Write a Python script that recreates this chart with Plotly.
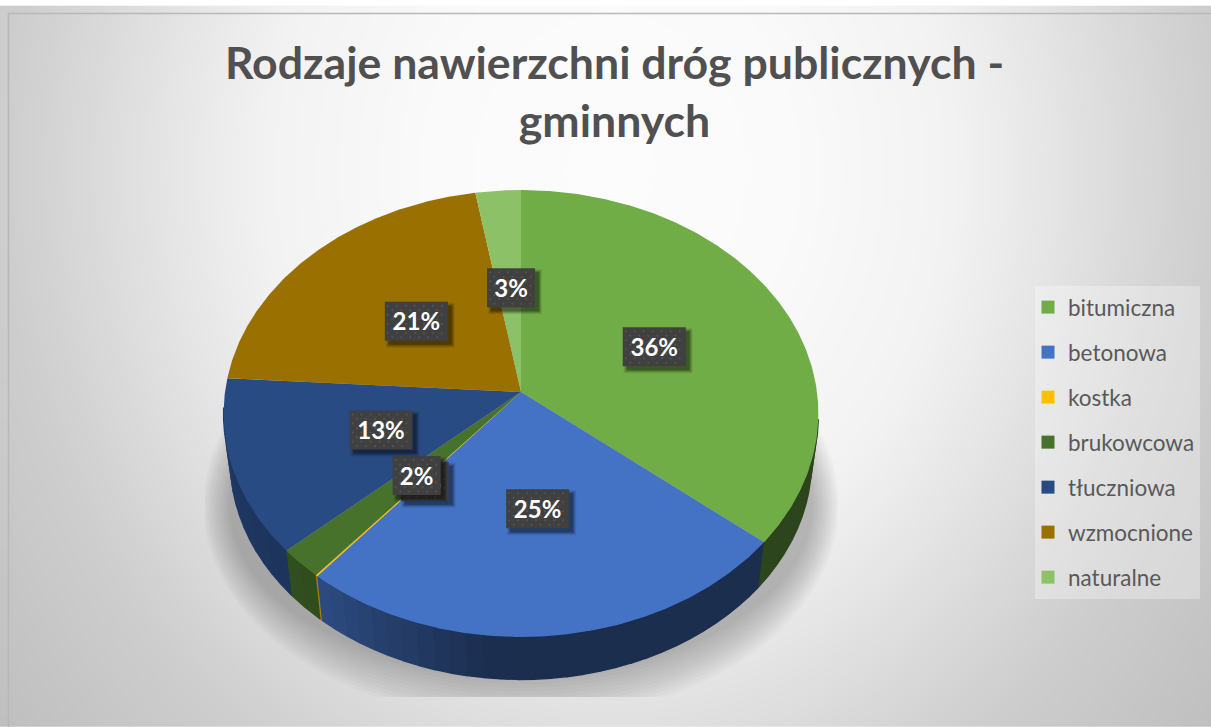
import numpy as np
import plotly.graph_objects as go

TITLE = "Rodzaje nawierzchni dróg publicznych -<br>gminnych"
categories = ["bitumiczna", "betonowa", "kostka", "brukowcowa", "tłuczniowa", "wzmocnione", "naturalne"]
values = [36.0, 25.0, 0.1, 2.2, 12.7, 21.3, 2.7]
colors = ["#70AD47", "#4472C4", "#FFC000", "#47722C", "#294B83", "#9A7000", "#8CC168"]

W, H = 1211, 727
FONT = "Lato"
CX, CY = 521.0, 392.0
BX, AY, K = 296.0, 221.4, 0.0962   # perspective ellipse of the pie's top face
DEPTH, LOWER = 48.0, 0.977


def project(theta, r=1.0, drop=0.0, scale=1.0):
    s, c = np.sin(theta) * r, np.cos(theta) * r
    d = 1 + K * c
    return CX + scale * BX * s / d, CY + drop - scale * AY * c / d


def fill(xs, ys, color, **kw):
    return go.Scatter(x=np.asarray(xs), y=np.asarray(ys), mode="lines", fill="toself", fillcolor=color,
                      line=dict(width=kw.pop("lw", 0), color=color), hoverinfo="skip", showlegend=False, **kw)


def scaled(hex_color, s):
    r, g, b = (int(hex_color[i:i + 2], 16) for i in (1, 3, 5))
    return f"rgb({r * s:.0f},{g * s:.0f},{b * s:.0f})"


fig = go.Figure()

# Page background: soft radial gradient of the chart area
gx = np.linspace(8, W, 70)
gy = np.linspace(13, H, 50)
X, Y = np.meshgrid(gx, gy)
T = np.sqrt(((X - 610) / 600) ** 2 + ((Y - 170) / 700) ** 2)
Z = np.interp(T, [0, 0.3, 0.575, 0.7, 1.0, 1.3], [252, 250, 242, 232, 206, 190])
fig.add_trace(go.Heatmap(x=gx, y=gy, z=Z, zmin=0, zmax=255, zsmooth="best", showscale=False, hoverinfo="skip",
                         colorscale=[[0, "rgb(0,0,0)"], [1, "rgb(255,255,255)"]]))
fig.add_trace(go.Scatter(x=[8.5, 8.5, W], y=[H, 13.5, 13.5], mode="lines", line=dict(color="#b8b8b8", width=1.5),
                         hoverinfo="skip", showlegend=False))

# Soft clipped shadow under the pie
phi = np.linspace(0, 2 * np.pi, 181)
for t in np.linspace(1, 0, 13):
    sx = np.clip(521 + (292 + 26 * t) * np.cos(phi), 205, 838)
    sy = np.minimum(505 + (172 + 44 * t) * np.sin(phi), 697)
    fig.add_trace(fill(sx, sy, "rgba(0,0,0,0.02)"))

# Slice angles
vals = np.array(values, dtype=float)
edges = np.concatenate([[0], np.cumsum(vals) / vals.sum()]) * 2 * np.pi

# Side wall of the pie, darker towards the front
wall_deg = [90, 185, 222, 270]
wall_s = [0.40, 0.40, 0.68, 0.80]
for i, col in enumerate(colors):
    a0, a1 = max(edges[i], np.radians(97)), min(edges[i + 1], np.radians(266))
    if a1 <= a0:
        continue
    n = max(1, int(np.degrees(a1 - a0) / 3))
    cuts = np.linspace(a0, a1, n + 1)
    for u, v in zip(cuts[:-1], cuts[1:]):
        th = np.linspace(u, v, 5)
        ux, uy = project(th)
        lx, ly = project(th[::-1], drop=DEPTH, scale=LOWER)
        shade = float(np.interp(np.degrees((u + v) / 2), wall_deg, wall_s))
        fig.add_trace(fill(np.r_[ux, lx], np.r_[uy, ly], scaled(col, shade), lw=1.6))

# Top face
for i, col in enumerate(colors):
    th = np.linspace(edges[i], edges[i + 1], max(3, int(np.degrees(edges[i + 1] - edges[i]) * 2)))
    ex, ey = project(th)
    fig.add_trace(fill(np.r_[CX, ex], np.r_[CY, ey], col))

# Data labels, stacked in series order so the later boxes cover the earlier ones
for i, v in enumerate(vals):
    mid = (edges[i] + edges[i + 1]) / 2
    lx, ly = project(mid, r=0.5)
    lx, ly = float(lx) + 2, float(ly) + 1
    txt = f"{round(v / vals.sum() * 100)}%"
    hw, hh = (16.5 + 7.5 * (len(txt) - 1)), 19.5
    for grow, alpha in ((3, 0.08), (2, 0.12), (1, 0.16), (0, 0.22)):
        fig.add_trace(fill([lx - hw + 4 - grow, lx + hw + 4 + grow, lx + hw + 4 + grow, lx - hw + 4 - grow],
                           [ly - hh + 4 - grow, ly - hh + 4 - grow, ly + hh + 4 + grow, ly + hh + 4 + grow],
                           f"rgba(0,0,0,{alpha})"))
    fig.add_trace(fill([lx - hw, lx + hw, lx + hw, lx - hw], [ly - hh, ly - hh, ly + hh, ly + hh], "#404040"))
    dx, dy = [], []
    for row, yy in enumerate(np.arange(ly - hh + 4, ly + hh - 2, 4.5)):
        xs = np.arange(lx - hw + 3 + (row % 2) * 4.5, lx + hw - 2, 9)
        dx.extend(xs)
        dy.extend([yy] * len(xs))
    fig.add_trace(go.Scatter(x=dx, y=dy, mode="markers", marker=dict(size=2, color="#555555"),
                             hoverinfo="skip", showlegend=False))
    fig.add_trace(go.Scatter(x=[lx], y=[ly + 3], mode="text", text=[f"<b>{txt}</b>"], textposition="middle center",
                             textfont=dict(family=FONT, size=24, color="#ffffff"),
                             hoverinfo="skip", showlegend=False))

# Legend entries
for name, col in zip(categories, colors):
    fig.add_trace(go.Scatter(x=[None], y=[None], mode="markers", name=name, legendgroup=name,
                             marker=dict(symbol="square", size=13, color=col)))

fig.update_layout(
    width=W, height=H, margin=dict(l=0, r=0, t=0, b=0),
    paper_bgcolor="#ffffff", plot_bgcolor="rgba(0,0,0,0)",
    xaxis=dict(range=[0, W], visible=False, fixedrange=True),
    yaxis=dict(range=[H, 0], visible=False, fixedrange=True),
    title=dict(text=TITLE, x=614.5 / W, xanchor="center", y=1 - 79 / H, yanchor="top",
               font=dict(family=FONT, size=44.6, color="#505050", weight=700)),
    legend=dict(x=1035 / W, xanchor="left", y=1 - 286 / H, yanchor="top", bgcolor="rgba(255,255,255,0.3)",
                font=dict(family=FONT, size=22.5, color="#595959"), tracegroupgap=12.75, indentation=-7,
                entrywidth=141, entrywidthmode="pixels", itemclick=False, itemdoubleclick=False),
    hovermode=False, showlegend=True,
)

fig.write_html("out.html", config=dict(displayModeBar=False),
               post_script="document.body.style.margin='0';")
